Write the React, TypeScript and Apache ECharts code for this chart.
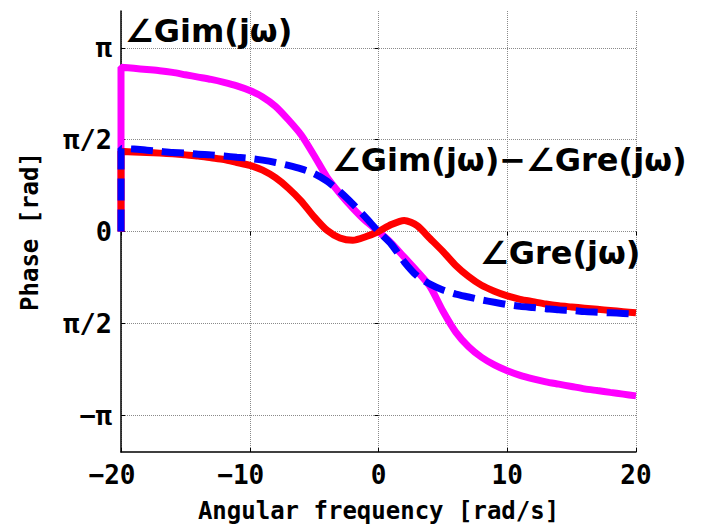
import React, { useEffect, useRef } from "react";
import * as echarts from "echarts";

const PI = Math.PI;

// angular frequency samples [rad/s]
const omega = [
  -20, -19, -18, -17, -16, -15, -14, -13, -12, -11, -10, -9, -8, -7, -6, -5, -4, -3, -2, -1,
  0, 1, 2, 3, 4, 5, 6, 7, 8, 9, 10, 11, 12, 13, 14, 15, 16, 17, 18, 19, 20,
];

// ∠Gim(jω) [rad]
const phaseGim = [
  2.81, 2.79, 2.77, 2.75, 2.72, 2.68, 2.64, 2.6, 2.55, 2.49, 2.41, 2.3, 2.14, 1.91, 1.65, 1.3, 0.93, 0.65, 0.4, 0.18,
  0, -0.2, -0.44, -0.68, -0.94, -1.36, -1.72, -1.97, -2.15, -2.28, -2.38, -2.46, -2.52, -2.57, -2.61, -2.65, -2.69, -2.72, -2.75, -2.78, -2.81,
];

// ∠Gre(jω) [rad]
const phaseGre = [
  1.37, 1.36, 1.35, 1.34, 1.33, 1.31, 1.29, 1.26, 1.23, 1.18, 1.13, 1.05, 0.92, 0.74, 0.52, 0.25, 0.02, -0.11, -0.15, -0.09,
  0, 0.12, 0.19, 0.1, -0.12, -0.34, -0.58, -0.77, -0.92, -1.02, -1.1, -1.16, -1.2, -1.24, -1.27, -1.29, -1.31, -1.33, -1.35, -1.37, -1.39,
];

// ∠Gim(jω) − ∠Gre(jω) [rad]
const phaseDiff = [
  1.42, 1.41, 1.39, 1.37, 1.35, 1.34, 1.32, 1.31, 1.29, 1.27, 1.25, 1.22, 1.18, 1.13, 1.07, 0.99, 0.86, 0.68, 0.47, 0.24,
  0, -0.22, -0.52, -0.76, -0.9, -1.0, -1.07, -1.12, -1.17, -1.21, -1.25, -1.28, -1.3, -1.32, -1.34, -1.35, -1.37, -1.38, -1.39, -1.4, -1.41,
];

// starting value at ω = -20 before the jump
const startValue = 0;

const yTickValues = [-PI, -PI / 2, 0, PI / 2, PI];
const yTickLabels = ["−π", "π/2", "0", "π/2", "π"];

const MONO = "'DejaVu Sans Mono', 'Liberation Mono', monospace";
const SANS = "'DejaVu Sans', 'Noto Sans', sans-serif";

function buildSeries(vals: number[]) {
  const pts: [number, number][] = [[omega[0], startValue]];
  for (let i = 0; i < omega.length; i++) pts.push([omega[i], vals[i]]);
  return pts;
}

export default function App() {
  const ref = useRef<HTMLDivElement>(null);
  useEffect(() => {
    if (!ref.current) return;
    const chart = echarts.init(ref.current, null, { renderer: "svg" });
    const yLabel = (v: number) => {
      const i = yTickValues.findIndex((t) => Math.abs(t - v) < 1e-6);
      return i >= 0 ? yTickLabels[i] : "";
    };
    const gridLine = { show: true, lineStyle: { color: "#8a8a8a", type: "dotted" as const, width: 1 } };
    chart.setOption({
      animation: false,
      backgroundColor: "#ffffff",
      grid: { left: 121, right: 66, top: 11, bottom: 77, containLabel: false, outerBoundsMode: "none" },
      xAxis: [
        {
          type: "value",
          min: -20,
          max: 20,
          interval: 10,
          position: "bottom",
          axisLine: { show: true, onZero: false, lineStyle: { color: "#000", width: 1.5 } },
          axisTick: { show: true, inside: true, length: 4, lineStyle: { color: "#000" } },
          splitLine: gridLine,
          axisLabel: {
            color: "#000",
            fontSize: 26,
            fontWeight: "bold",
            fontFamily: MONO,
            margin: 10,
            formatter: (v: number) => (v < 0 ? "{neg|−" + -v + "}" : String(v)),
            rich: {
              neg: { fontSize: 26, fontWeight: "bold", fontFamily: MONO, color: "#000", padding: [0, 18, 0, 0] },
            },
          },
          name: "Angular frequency [rad/s]",
          nameLocation: "middle",
          nameGap: 47,
          nameTextStyle: { color: "#000", fontSize: 24, fontWeight: "bold", fontFamily: MONO },
        },
        {
          type: "value",
          min: -20,
          max: 20,
          interval: 10,
          position: "top",
          axisLine: { show: false },
          axisTick: { show: true, inside: true, length: 4, lineStyle: { color: "#000" } },
          splitLine: { show: false },
          axisLabel: { show: false },
        },
      ],
      yAxis: [
        {
          type: "value",
          min: -1.2 * PI,
          max: 1.2 * PI,
          position: "left",
          axisLine: { show: true, onZero: false, lineStyle: { color: "#000", width: 1.5 } },
          axisTick: { show: true, inside: true, length: 4, customValues: yTickValues, lineStyle: { color: "#000" } },
          splitLine: gridLine,
          axisLabel: {
            customValues: yTickValues,
            color: "#000",
            fontSize: 27,
            fontWeight: "bold",
            fontFamily: MONO,
            margin: 9,
            formatter: yLabel,
          },
          name: "Phase [rad]",
          nameLocation: "middle",
          nameGap: 79,
          nameTextStyle: { color: "#000", fontSize: 24, fontWeight: "bold", fontFamily: MONO },
        },
        {
          type: "value",
          min: -1.2 * PI,
          max: 1.2 * PI,
          position: "right",
          axisLine: { show: false },
          axisTick: { show: true, inside: true, length: 4, customValues: yTickValues, lineStyle: { color: "#000" } },
          splitLine: { show: false },
          axisLabel: { show: false, customValues: yTickValues },
        },
      ],
      series: [
        {
          name: "∠Gim(jω)",
          type: "line",
          data: buildSeries(phaseGim),
          showSymbol: false,
          smooth: 0.25,
          lineStyle: { color: "#ff00ff", width: 7 },
          z: 2,
        },
        {
          name: "∠Gre(jω)",
          type: "line",
          data: buildSeries(phaseGre),
          showSymbol: false,
          smooth: 0.25,
          lineStyle: { color: "#ff0000", width: 7 },
          z: 3,
        },
        {
          name: "∠Gim(jω)−∠Gre(jω)",
          type: "line",
          data: buildSeries(phaseDiff),
          showSymbol: false,
          smooth: 0.25,
          lineStyle: { color: "#0000ff", width: 7, type: [22, 9] },
          z: 4,
        },
      ],
      graphic: [
        {
          type: "text",
          left: 125,
          top: 15,
          style: { text: "∠Gim(jω)", font: `bold 32px ${SANS}`, fill: "#000" },
          z: 10,
        },
        {
          type: "text",
          left: 332,
          top: 144,
          style: { text: "∠Gim(jω)−∠Gre(jω)", font: `bold 32px ${SANS}`, fill: "#000" },
          z: 10,
        },
        {
          type: "text",
          left: 480,
          top: 237,
          style: { text: "∠Gre(jω)", font: `bold 32px ${SANS}`, fill: "#000" },
          z: 10,
        },
      ],
    });
    return () => chart.dispose();
  }, []);
  return <div ref={ref} style={{ width: 702, height: 529, position: "absolute", left: 0, top: 0 }} />;
}
